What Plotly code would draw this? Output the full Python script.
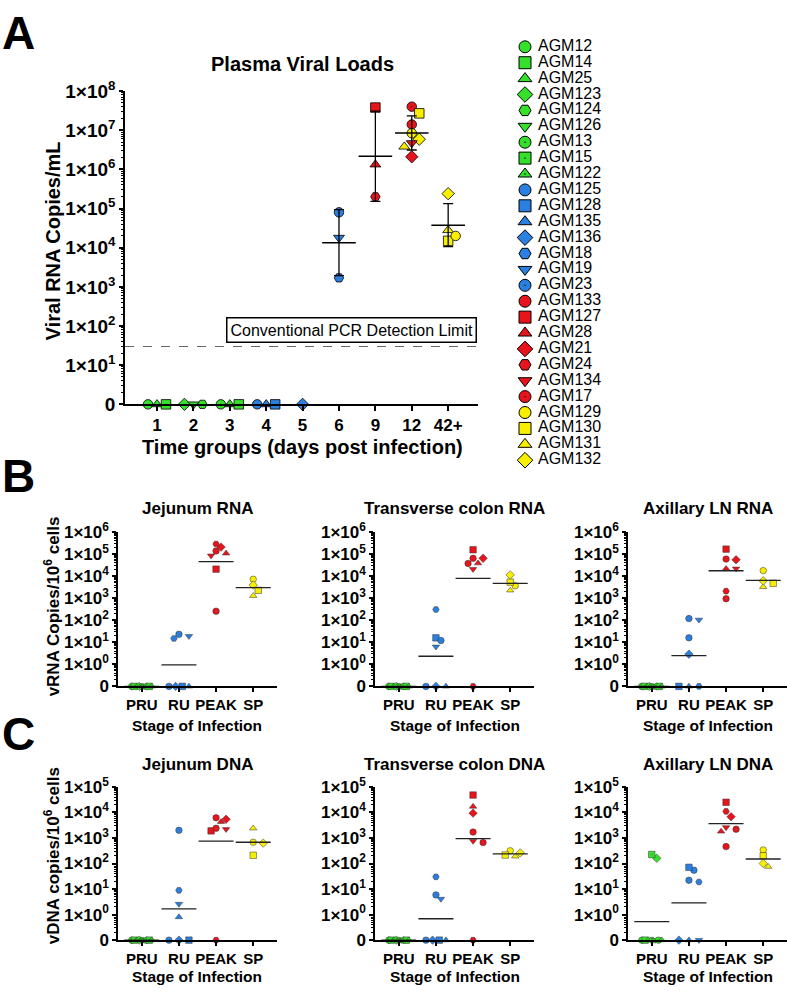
import numpy as np
import plotly.graph_objects as go

W, H = 787, 997
FONT = "Liberation Sans, Arial, sans-serif"

# ---------------- data ----------------
animals = ["AGM12", "AGM14", "AGM25", "AGM123", "AGM124", "AGM126", "AGM13", "AGM15", "AGM122",
           "AGM125", "AGM128", "AGM135", "AGM136", "AGM18", "AGM19", "AGM23",
           "AGM133", "AGM127", "AGM28", "AGM21", "AGM24", "AGM134", "AGM17",
           "AGM129", "AGM130", "AGM131", "AGM132"]
animal_group = ["PRU"] * 9 + ["RU"] * 7 + ["PEAK"] * 7 + ["SP"] * 4

day_labels = ["1", "2", "3", "4", "5", "6", "9", "12", "42+"]
plasma_animal = ["AGM12", "AGM25", "AGM14", "AGM123", "AGM126", "AGM124", "AGM13", "AGM122", "AGM15",
                 "AGM125", "AGM135", "AGM128", "AGM136",
                 "AGM23", "AGM19", "AGM18",
                 "AGM127", "AGM28", "AGM24",
                 "AGM17", "AGM130", "AGM133", "AGM129", "AGM132", "AGM134", "AGM131", "AGM21",
                 "AGM132", "AGM131", "AGM130", "AGM129"]
plasma_day = ["1", "1", "1", "2", "2", "2", "3", "3", "3",
              "4", "4", "4", "5",
              "6", "6", "6",
              "9", "9", "9",
              "12", "12", "12", "12", "12", "12", "12", "12",
              "42+", "42+", "42+", "42+"]
plasma_value = [0, 0, 0, 0, 0, 0, 0, 0, 0,
                0, 0, 0, 0,
                8.0e4, 1.8e4, 1.7e3,
                3.8e7, 1.33e6, 2.0e5,
                4.0e7, 2.7e7, 1.4e7, 8.4e6, 5.9e6, 4.7e6, 3.8e6, 2.1e6,
                2.4e5, 2.8e4, 1.5e4, 2.0e4]
detection_limit = 30

stage_labels = ["PRU", "RU", "PEAK", "SP"]
tissue_animals = ["AGM12", "AGM14", "AGM25", "AGM123", "AGM124", "AGM126", "AGM13", "AGM15", "AGM122",
                  "AGM125", "AGM136", "AGM128", "AGM135", "AGM18", "AGM19", "AGM23",
                  "AGM133", "AGM127", "AGM28", "AGM21", "AGM24", "AGM134", "AGM17",
                  "AGM129", "AGM130", "AGM131", "AGM132"]
jejunum_rna = [0, 0, 0, 0, 0, 0, 0, 0, 0,
               0, 0, 0, 0, 15, 19, 23,
               1.4e5, 2.1e4, 1.1e5, 2.1e5, 2.9e5, 8.6e4, 260,
               7.3e3, 2.3e3, 1.3e3, 4.0e3]
colon_rna = [0, 0, 0, 0, 0, 0, 0, 0, 0,
             0, 0, 16, 0, 310, 6.3, 12,
             6.5e4, 1.6e5, 3.9e4, 6.5e4, 0, 2.1e4, 3.8e4,
             3.7e3, 5.4e3, 2.3e3, 1.15e4]
axillary_rna = [0, 0, 0, 0, 0, 0, 0, 0, 0,
                16, 2.9, 0, 0, 0, 105, 120,
                6.0e4, 1.7e5, 2.2e4, 5.6e4, 2.1e3, 2.2e4, 950,
                1.8e4, 4.8e3, 3.3e3, 6.2e3]
jejunum_dna = [0, 0, 0, 0, 0, 0, 0, 0, 0,
               0, 0, 0, 0.8, 8.9, 2.6, 2.0e3,
               6.2e3, 1.9e3, 4.3e3, 5.4e3, 0, 2.2e3, 2.4e3,
               680, 210, 2.4e3, 630]
colon_dna = [0, 0, 0, 0, 0, 0, 0, 0, 0,
             0, 0, 0, 0, 30, 4.1, 5.9,
             1.7e3, 4.8e4, 1.7e4, 9.4e3, 0, 760, 660,
             316, 215, 190, 260]
axillary_dna = [0, 0, 0, 160, 0, 0, 0, 225, 0,
                55, 0, 71, 0, 19, 0, 22,
                460, 2.5e4, 1.8e3, 6.8e3, 1.1e4, 2.6e3, 2.2e3,
                340, 200, 75, 100]

# ---------------- styles ----------------
group_color = {"PRU": "#35E02A", "RU": "#2A7FE0", "PEAK": "#E8141C", "SP": "#F7EE00"}
animal_symbol = {
    "AGM12": "circle", "AGM14": "square", "AGM25": "triangle-up", "AGM123": "diamond",
    "AGM124": "hexagon2", "AGM126": "triangle-down", "AGM13": "circle-dot", "AGM15": "square-dot",
    "AGM122": "triangle-up-dot",
    "AGM125": "circle", "AGM128": "square", "AGM135": "triangle-up", "AGM136": "diamond",
    "AGM18": "hexagon2", "AGM19": "triangle-down", "AGM23": "circle-dot",
    "AGM133": "circle", "AGM127": "square", "AGM28": "triangle-up", "AGM21": "diamond",
    "AGM24": "hexagon2", "AGM134": "triangle-down", "AGM17": "circle-dot",
    "AGM129": "circle", "AGM130": "square", "AGM131": "triangle-up", "AGM132": "diamond",
}
animal_color = {a: group_color[g] for a, g in zip(animals, animal_group)}
stage_of = dict(zip(animals, animal_group))


def dom_x(x0, x1):
    return [x0 / W, x1 / W]


def dom_y(y0, y1):
    return [1 - y1 / H, 1 - y0 / H]


def swarm(cat, ylog, px_x, px_y, d, step, zero_log, zero_sp, zero_span):
    n = len(cat)
    off = np.zeros(n)
    for c in sorted(set(cat)):
        idx = [i for i in range(n) if cat[i] == c]
        zeros = [i for i in idx if ylog[i] == zero_log]
        nz = len(zeros)
        if nz > 1:
            sp = min(zero_sp, zero_span / (nz - 1))
            for k, i in enumerate(zeros):
                off[i] = (k - (nz - 1) / 2) * sp
        others = sorted([i for i in idx if i not in zeros], key=lambda i: -ylog[i])
        placed = []
        for i in others:
            yi = ylog[i] * px_y
            cand = 0.0
            for m in range(0, 30):
                cand = 0.0 if m == 0 else ((m + 1) // 2) * step * (1 if m % 2 else -1)
                if all((cand - off[j]) ** 2 + (yi - ylog[j] * px_y) ** 2 >= d * d for j in placed):
                    break
            off[i] = cand
            placed.append(i)
    return np.array(cat, dtype=float) + off / px_x


fig = go.Figure()
layout = dict(width=W, height=H, margin=dict(l=0, r=0, t=0, b=0),
              paper_bgcolor="white", plot_bgcolor="white", showlegend=False,
              font=dict(family=FONT, color="black"))
annotations = []


def bold(size):
    return dict(family=FONT, size=size, color="black", weight="bold")


def make_xaxis(domain, rng, labels, anchor, size, ticklen=5):
    return dict(domain=domain, range=rng, tickmode="array", tickvals=list(range(len(labels))),
                ticktext=labels, showline=True, linecolor="black", linewidth=1.5,
                ticks="outside", ticklen=ticklen, tickwidth=1.5, tickcolor="black",
                showgrid=False, zeroline=False, tickfont=bold(size), anchor=anchor, fixedrange=True)


def make_yaxis(domain, lo, hi, anchor, size, zero_value):
    vals = [zero_value] + [10.0 ** k for k in range(int(np.log10(zero_value)) + 1, hi + 1)]
    text = ["0"] + ["1×10<sup>%d</sup>" % int(round(np.log10(v))) for v in vals[1:]]
    return dict(domain=domain, type="log", range=[lo, hi], tickmode="array", tickvals=vals,
                ticktext=text, showline=True, linecolor="black", linewidth=1.5,
                ticks="outside", ticklen=4, tickwidth=1.5, tickcolor="black",
                minor=dict(ticks="outside", ticklen=2.5, tickwidth=1, tickcolor="black", dtick="D1"),
                showgrid=False, zeroline=False, tickfont=bold(size), anchor=anchor, fixedrange=True)


# ---------------- Panel A ----------------
A_X0, A_X1, A_Y0, A_Y1 = 125, 478, 80, 401
A_XR = [-0.88, 8.82]
A_YR = [0, 8]
layout["xaxis"] = make_xaxis(dom_x(A_X0, A_X1), A_XR, day_labels, "y", 17)
layout["yaxis"] = make_yaxis(dom_y(A_Y0, A_Y1), A_YR[0], A_YR[1], "x", 19, 1)

pA_cat = [day_labels.index(d) for d in plasma_day]
pA_y = [v if v > 0 else 1.0 for v in plasma_value]
pA_log = list(np.log10(pA_y))
pxA_x = (A_X1 - A_X0) / (A_XR[1] - A_XR[0])
pxA_y = (A_Y1 - A_Y0) / (A_YR[1] - A_YR[0])
pA_x = swarm(pA_cat, pA_log, pxA_x, pxA_y, 7.8, 7.5, 0.0, 9.0, 18.0)

# detection limit line
fig.add_trace(go.Scatter(x=A_XR, y=[detection_limit, detection_limit], mode="lines",
                         line=dict(color="#666666", width=1, dash="dash"),
                         xaxis="x", yaxis="y", hoverinfo="skip"))
fig.add_trace(go.Scatter(x=pA_x, y=pA_y, mode="markers", xaxis="x", yaxis="y",
                         cliponaxis=False,
                         marker=dict(size=9.5, color=[animal_color[a] for a in plasma_animal],
                                     symbol=[animal_symbol[a] for a in plasma_animal],
                                     line=dict(color="black", width=0.8)),
                         text=plasma_animal))
# geometric mean +/- geometric SD
st_x, st_m, st_up, st_dn = [], [], [], []
for k, lab in enumerate(day_labels):
    vals = np.array([v for v, d in zip(plasma_value, plasma_day) if d == lab])
    if len(vals) > 1 and np.all(vals > 0):
        lg = np.log10(vals)
        m, s = lg.mean(), lg.std(ddof=1)
        st_x.append(k)
        st_m.append(10 ** m)
        st_up.append(10 ** (m + s) - 10 ** m)
        st_dn.append(10 ** m - 10 ** (m - s))
fig.add_trace(go.Scatter(x=st_x, y=st_m, mode="markers", xaxis="x", yaxis="y",
                         marker=dict(symbol="line-ew", size=24, color="black",
                                     line=dict(color="black", width=1.5)),
                         error_y=dict(type="data", symmetric=False, array=st_up, arrayminus=st_dn,
                                      color="black", thickness=1.3, width=5)))

annotations.append(dict(text="Conventional PCR Detection Limit", xref="paper", yref="paper",
                        x=477 / W, y=1 - 324.5 / H, xanchor="right", yanchor="middle",
                        showarrow=False, font=dict(family=FONT, size=16, color="black"),
                        bordercolor="black", borderwidth=1.5, borderpad=3, bgcolor="white"))
annotations.append(dict(text="Plasma Viral Loads", xref="paper", yref="paper", x=302 / W,
                        y=1 - 52 / H, xanchor="center", yanchor="middle", showarrow=False,
                        font=bold(20)))
annotations.append(dict(text="Viral RNA Copies/mL", xref="paper", yref="paper", x=53 / W,
                        y=1 - 233 / H, xanchor="center", yanchor="middle", showarrow=False,
                        textangle=-90, font=bold(20)))
annotations.append(dict(text="Time groups (days post infection)", xref="paper", yref="paper",
                        x=302 / W, y=1 - 445 / H, xanchor="center", yanchor="middle",
                        showarrow=False, font=bold(20)))

# ---------------- Legend ----------------
layout["xaxis8"] = dict(domain=dom_x(505, 700), range=[-0.4, 3.5], visible=False, fixedrange=True,
                        anchor="y8")
layout["yaxis8"] = dict(domain=dom_y(26.5, 466.4), range=[26.5, -0.5], visible=False,
                        fixedrange=True, anchor="x8")
leg_y = list(range(len(animals)))
fig.add_trace(go.Scatter(x=[0] * len(animals), y=leg_y, mode="markers", xaxis="x8", yaxis="y8",
                         cliponaxis=False,
                         marker=dict(size=12, color=[animal_color[a] for a in animals],
                                     symbol=[animal_symbol[a] for a in animals],
                                     line=dict(color="black", width=1))))
fig.add_trace(go.Scatter(x=[0.26] * len(animals), y=leg_y, mode="text", xaxis="x8", yaxis="y8",
                         text=animals, textposition="middle right", cliponaxis=False,
                         textfont=dict(family=FONT, size=16, color="black")))

# ---------------- Panels B & C ----------------
panels = [
    ("Jejunum RNA", jejunum_rna, 0, "B"),
    ("Transverse colon RNA", colon_rna, 1, "B"),
    ("Axillary LN RNA", axillary_rna, 2, "B"),
    ("Jejunum DNA", jejunum_dna, 0, "C"),
    ("Transverse colon DNA", colon_dna, 1, "C"),
    ("Axillary LN DNA", axillary_dna, 2, "C"),
]
LEFTS = [118, 375, 628]
PW = 159
ROW = {"B": dict(y0=532, y1=690, hi=6, title_y=508, tick_title_y=730,
                 ytitle="vRNA Copies/10<sup>6</sup> cells", ytitle_y=608),
       "C": dict(y0=793, y1=950, hi=5, title_y=770, tick_title_y=987,
                 ytitle="vDNA copies/10<sup>6</sup> cells", ytitle_y=864)}
XR = [-0.64, 3.64]
ZERO = 0.1

for n, (title, vals, col, row) in enumerate(panels):
    ax = n + 2
    xa, ya = "x%d" % ax, "y%d" % ax
    r = ROW[row]
    x0 = LEFTS[col]
    layout["xaxis%d" % ax] = make_xaxis(dom_x(x0, x0 + PW), XR, stage_labels, ya, 15, ticklen=4)
    layout["yaxis%d" % ax] = make_yaxis(dom_y(r["y0"], r["y1"]), -1, r["hi"], xa, 17, ZERO)
    cat = [stage_labels.index(stage_of[a]) for a in tissue_animals]
    yv = [v if v > 0 else ZERO for v in vals]
    ylog = list(np.log10(yv))
    px_x = PW / (XR[1] - XR[0])
    px_y = (r["y1"] - r["y0"]) / (r["hi"] + 1)
    xs = swarm(cat, ylog, px_x, px_y, 5.6, 5.0, -1.0, 10.0, 20.0)
    fig.add_trace(go.Scatter(x=xs, y=yv, mode="markers", xaxis=xa, yaxis=ya, cliponaxis=False,
                             marker=dict(size=6.5, color=[animal_color[a] for a in tissue_animals],
                                         symbol=[animal_symbol[a] for a in tissue_animals],
                                         line=dict(color="#333333", width=0.5)),
                             text=tissue_animals))
    # geometric mean line (zeros counted at the axis zero level)
    gm_x, gm_y = [], []
    for k, s in enumerate(stage_labels):
        lg = [l for l, c in zip(ylog, cat) if c == k]
        gm_x.append(k)
        gm_y.append(10 ** np.mean(lg))
    fig.add_trace(go.Scatter(x=gm_x, y=gm_y, mode="markers", xaxis=xa, yaxis=ya, cliponaxis=False,
                             marker=dict(symbol="line-ew", size=25, color="#222222",
                                         line=dict(color="#222222", width=1.3))))
    cx = (x0 + x0 + PW) / 2
    annotations.append(dict(text=title, xref="paper", yref="paper", x=cx / W, y=1 - r["title_y"] / H,
                            xanchor="center", yanchor="middle", showarrow=False, font=bold(17)))
    annotations.append(dict(text="Stage of Infection", xref="paper", yref="paper", x=cx / W,
                            y=1 - r["tick_title_y"] / H, xanchor="center", yanchor="middle",
                            showarrow=False, font=bold(15.5)))
    if col == 0:
        annotations.append(dict(text=r["ytitle"], xref="paper", yref="paper", x=52 / W,
                                y=1 - r["ytitle_y"] / H, xanchor="center", yanchor="middle",
                                showarrow=False, textangle=-90, font=bold(17)))

# panel letters
for letter, yc in [("A", 20), ("B", 474), ("C", 739)]:
    annotations.append(dict(text=letter, xref="paper", yref="paper", x=0, y=1 - yc / H,
                            xanchor="left", yanchor="middle", showarrow=False, font=bold(46)))

layout["annotations"] = annotations
fig.update_layout(**layout)
fig.write_html("out.html", config={"displayModeBar": False},
               post_script="document.body.style.margin='0';document.body.style.overflow='hidden';")
